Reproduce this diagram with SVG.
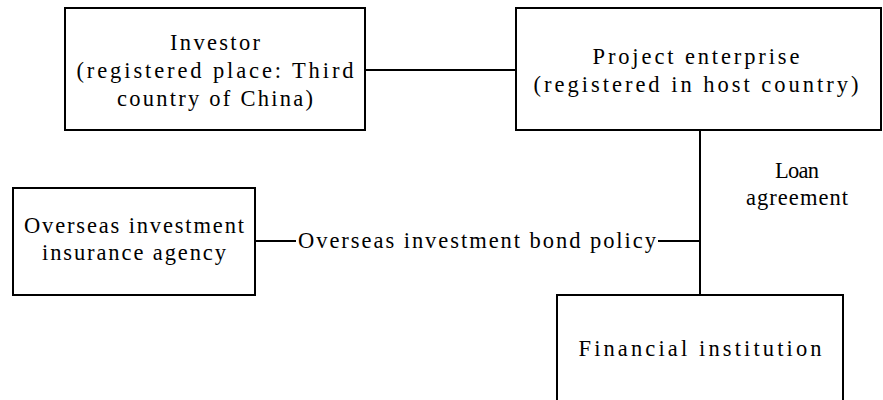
<svg xmlns="http://www.w3.org/2000/svg" width="883" height="400" viewBox="0 0 883 400">
<style>
.box{fill:#fff;stroke:#000;stroke-width:2}
.ln{stroke:#000;stroke-width:2;fill:none}
text{font-family:"Liberation Serif","Times New Roman",serif;font-size:22.5px;fill:#000;text-anchor:middle}
</style>
<rect width="883" height="400" fill="#fff"/>
<g id="connectors">
<line class="ln" x1="365" y1="70" x2="516" y2="70"/>
<line class="ln" x1="700" y1="130" x2="700" y2="295"/>
<line class="ln" x1="255" y1="241" x2="296" y2="241"/>
<line class="ln" x1="658" y1="241" x2="700" y2="241"/>
<text x="477" y="248" textLength="358" lengthAdjust="spacing">Overseas investment bond policy</text>
<text x="797" y="178" textLength="44" lengthAdjust="spacing">Loan</text>
<text x="797" y="205" textLength="102" lengthAdjust="spacing">agreement</text>
</g>
<g id="investor">
<rect class="box" x="65" y="8" width="300" height="122"/>
<text x="215" y="50" textLength="90" lengthAdjust="spacing">Investor</text>
<text x="215" y="78" textLength="277" lengthAdjust="spacing">(registered place: Third</text>
<text x="215" y="106" textLength="196" lengthAdjust="spacing">country of China)</text>
</g>
<g id="project">
<rect class="box" x="516" y="8" width="365" height="122"/>
<text x="696" y="64" textLength="207" lengthAdjust="spacing">Project enterprise</text>
<text x="696" y="92" textLength="325" lengthAdjust="spacing">(registered in host country)</text>
</g>
<g id="agency">
<rect class="box" x="13" y="188" width="242" height="107"/>
<text x="134" y="233" textLength="220" lengthAdjust="spacing">Overseas investment</text>
<text x="134" y="260" textLength="184" lengthAdjust="spacing">insurance agency</text>
</g>
<g id="financial">
<rect class="box" x="557" y="295" width="286" height="120"/>
<text x="700" y="356" textLength="243" lengthAdjust="spacing">Financial institution</text>
</g>
</svg>
